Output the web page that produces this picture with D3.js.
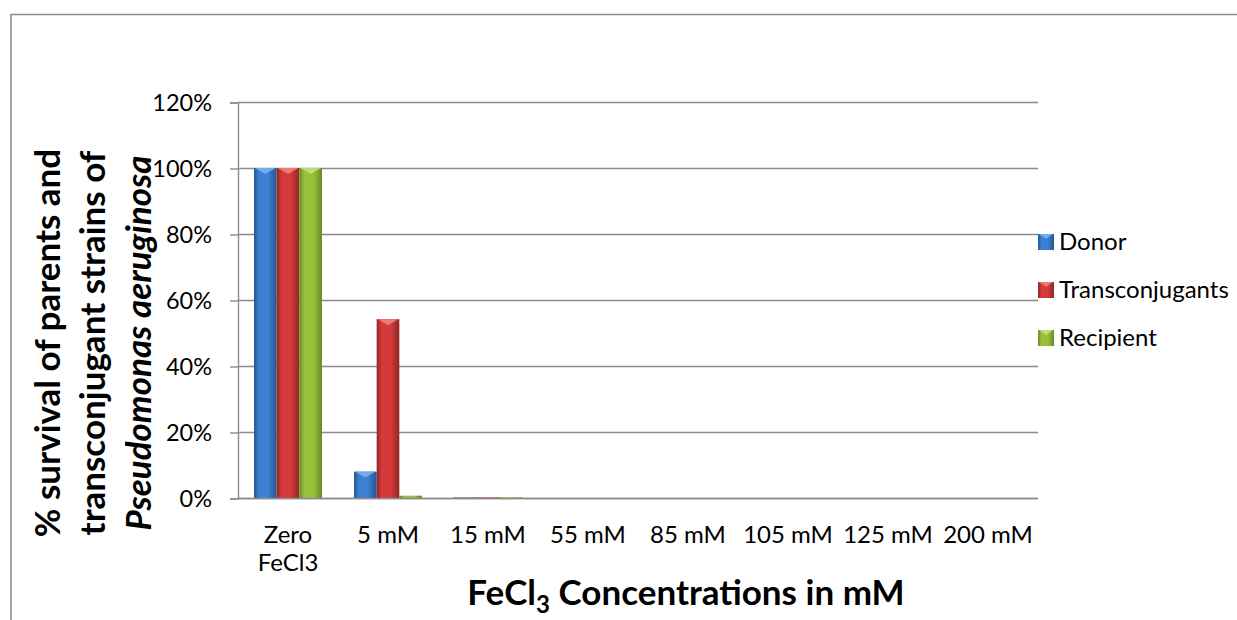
<!DOCTYPE html>
<html>
<head>
<meta charset="utf-8">
<script src="https://cdn.jsdelivr.net/npm/d3@7"></script>
<style>
  html, body { margin: 0; padding: 0; background: #fff; }
  svg { display: block; }
  text { font-family: Lato, "Open Sans", sans-serif; fill: #000; }
</style>
</head>
<body>
<svg id="chart" width="1237" height="620"></svg>
<script>
// Survival (%) of each strain at increasing FeCl3 concentrations
const categories = [["Zero", "FeCl3"], ["5 mM"], ["15 mM"], ["55 mM"], ["85 mM"], ["105 mM"], ["125 mM"], ["200 mM"]];
const seriesNames = ["Donor", "Transconjugants", "Recipient"];
const donor = [100, 8, 0.2, 0, 0, 0, 0, 0];
const transconjugants = [100, 54.2, 0.2, 0, 0, 0, 0, 0];
const recipient = [100, 0.7, 0.2, 0, 0, 0, 0, 0];
const yTicks = [0, 20, 40, 60, 80, 100, 120];

const seriesValues = [donor, transconjugants, recipient];
const palette = [
  { edge: "#27558f", mid: "#3b80d2", light: "#7fb4ee" },
  { edge: "#8f2626", mid: "#d43a3a", light: "#ef8585" },
  { edge: "#678a24", mid: "#96c23a", light: "#c6e07e" }
];

const svg = d3.select("#chart");
const margin = { left: 238, right: 1038, top: 102, bottom: 498 };

// outer frame (top and left edges visible)
svg.append("path")
  .attr("d", "M11,620 L11,14.5 L1237,14.5")
  .attr("fill", "none").attr("stroke", "#8a8a8a").attr("stroke-width", 1.5);

const x0 = d3.scaleBand()
  .domain(d3.range(categories.length))
  .range([margin.left, margin.right])
  .paddingInner(0).paddingOuter(0);

const x1 = d3.scaleBand()
  .domain(d3.range(seriesNames.length))
  .range([0, x0.bandwidth()])
  .paddingInner(0).paddingOuter(0.706);

const y = d3.scaleLinear().domain([0, 120]).range([margin.bottom, margin.top]);

// gradients for the bevelled bars
const defs = svg.append("defs");
palette.forEach((c, i) => {
  const g = defs.append("linearGradient").attr("id", "grad" + i)
    .attr("x1", "0").attr("x2", "1").attr("y1", "0").attr("y2", "0");
  g.append("stop").attr("offset", "0%").attr("stop-color", c.edge);
  g.append("stop").attr("offset", "22%").attr("stop-color", c.mid);
  g.append("stop").attr("offset", "62%").attr("stop-color", c.mid);
  g.append("stop").attr("offset", "100%").attr("stop-color", c.edge);
});

// gridlines
svg.append("g").selectAll("line").data(yTicks).join("line")
  .attr("x1", margin.left).attr("x2", margin.right)
  .attr("y1", d => y(d) + 0.5).attr("y2", d => y(d) + 0.5)
  .attr("stroke", "#8c8c8c").attr("stroke-width", 1.4);

// y axis
const yAxis = d3.axisLeft(y).tickValues(yTicks).tickSize(8).tickPadding(18)
  .tickFormat(d => d + "%");
const gy = svg.append("g").attr("transform", `translate(${margin.left},0.5)`).call(yAxis);
gy.select(".domain").attr("stroke", "#8c8c8c").attr("stroke-width", 1.4);
gy.selectAll(".tick line").attr("stroke", "#8c8c8c").attr("stroke-width", 1.4);
gy.selectAll(".tick text").style("font-size", "23.5px").style("font-family", "Lato, sans-serif").attr("fill", "#000");

// bars
const groups = svg.append("g").selectAll("g").data(seriesValues).join("g");
groups.each(function (vals, si) {
  const g = d3.select(this);
  const c = palette[si];
  vals.forEach((v, ci) => {
    if (v <= 0) return;
    const bx = x0(ci) + x1(si);
    const bw = x1.bandwidth();
    const top = y(v);
    const h = y(0) - top;
    g.append("rect").attr("x", bx).attr("y", top).attr("width", bw).attr("height", Math.max(h, 1.2))
      .attr("fill", `url(#grad${si})`);
    const bev = Math.min(6, h * 0.6);
    if (h > 3) {
      g.append("path")
        .attr("d", `M${bx + 1},${top} L${bx + bw - 1},${top} L${bx + bw / 2},${top + bev} Z`)
        .attr("fill", c.light).attr("opacity", 0.85);
    }
  });
});

// x axis baseline
svg.append("line")
  .attr("x1", margin.left).attr("x2", margin.right)
  .attr("y1", y(0) + 0.5).attr("y2", y(0) + 0.5)
  .attr("stroke", "#8c8c8c").attr("stroke-width", 1.4);

// category labels
const xl = svg.append("g").selectAll("text").data(categories).join("text")
  .attr("x", (d, i) => x0(i) + x0.bandwidth() / 2)
  .attr("y", 543)
  .attr("text-anchor", "middle")
  .style("font-size", "24px");
xl.selectAll("tspan").data(d => d).join("tspan")
  .attr("x", function () { return d3.select(this.parentNode).attr("x"); })
  .attr("dy", (d, i) => i === 0 ? 0 : 28)
  .text(d => d);

// x axis title with subscript
const xt = svg.append("text").attr("x", 686).attr("y", 605)
  .attr("text-anchor", "middle").style("font-size", "35px").style("font-weight", "bold");
xt.append("tspan").text("FeCl");
xt.append("tspan").text("3").attr("dy", 8).style("font-size", "24px");
xt.append("tspan").text(" Concentrations in mM").attr("dy", -8);

// y axis title, three rotated lines
const yTitle = [
  { t: "% survival of parents and", x: 60, italic: false },
  { t: "transconjugant strains of", x: 105, italic: false },
  { t: "Pseudomonas aeruginosa", x: 151, italic: true }
];
svg.append("g").selectAll("text").data(yTitle).join("text")
  .attr("transform", d => `translate(${d.x},343) rotate(-90)`)
  .attr("text-anchor", "middle")
  .style("font-size", "35px").style("font-weight", "bold")
  .style("font-style", d => d.italic ? "italic" : "normal")
  .text(d => d.t);

// legend
const legend = svg.append("g").selectAll("g").data(seriesNames).join("g")
  .attr("transform", (d, i) => `translate(1038,${242 + i * 48})`);
legend.append("rect").attr("x", 0).attr("y", -8).attr("width", 16).attr("height", 16)
  .attr("fill", (d, i) => `url(#grad${i})`);
legend.append("path").attr("d", "M1,-8 L15,-8 L8,-3 Z")
  .attr("fill", (d, i) => palette[i].light).attr("opacity", 0.85);
legend.append("text").attr("x", 21).attr("y", 0).attr("dy", "0.35em")
  .style("font-size", "24px").text(d => d);
</script>
</body>
</html>
